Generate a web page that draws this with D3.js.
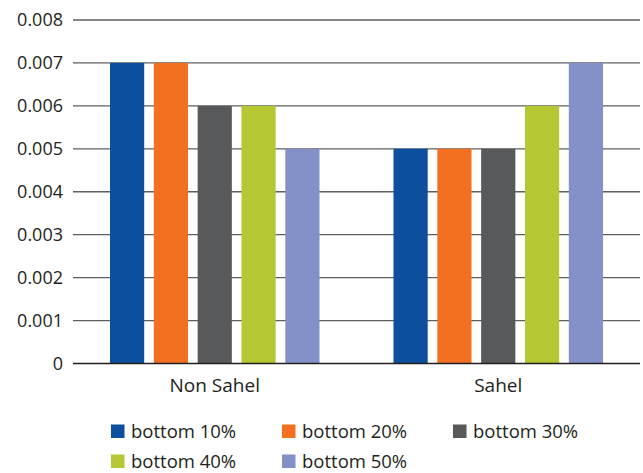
<!DOCTYPE html>
<html><head><meta charset="utf-8">
<script src="https://cdn.jsdelivr.net/npm/d3@7"></script>
<style>body{margin:0;background:#fff;} text{font-family:"Open Sans",sans-serif;fill:#231f20;}</style>
</head><body>
<svg id="c" width="643" height="473"></svg>
<script>
const categories = ["Non Sahel", "Sahel"];
const seriesNames = ["bottom 10%", "bottom 20%", "bottom 30%", "bottom 40%", "bottom 50%"];
const bottom10 = [0.007, 0.005];
const bottom20 = [0.007, 0.005];
const bottom30 = [0.006, 0.005];
const bottom40 = [0.006, 0.006];
const bottom50 = [0.005, 0.007];
const yTicks = [0, 0.001, 0.002, 0.003, 0.004, 0.005, 0.006, 0.007, 0.008];
const yTickLabels = ["0", "0.001", "0.002", "0.003", "0.004", "0.005", "0.006", "0.007", "0.008"];
const colors = ["#0b4f9e", "#f37021", "#58595b", "#b5c733", "#8490c8"];

(function() {
const values = [bottom10, bottom20, bottom30, bottom40, bottom50];
const svg = d3.select("#c");
const mLeft = 73, mRight = 640, mTop = 20, mBottom = 363.5;

const x0 = d3.scaleBand().domain(categories).range([mLeft, mRight]).paddingInner(0).paddingOuter(0);
const x1 = d3.scaleBand().domain(seriesNames).range([37, x0.bandwidth() - 37]).paddingInner(0.22).paddingOuter(0);
const y = d3.scaleLinear().domain([0, 0.008]).range([mBottom, mTop]);

svg.append("g").selectAll("line").data(yTicks.slice(1)).join("line")
  .attr("x1", mLeft).attr("x2", mRight)
  .attr("y1", d => y(d)).attr("y2", d => y(d))
  .attr("stroke", "#5f5f5f").attr("stroke-width", 1.3);

const groups = svg.append("g").selectAll("g").data(categories).join("g")
  .attr("transform", d => `translate(${x0(d)},0)`);
groups.each(function(cat, ci) {
  d3.select(this).selectAll("rect").data(seriesNames).join("rect")
    .attr("x", s => x1(s))
    .attr("width", x1.bandwidth())
    .attr("y", (s, si) => y(values[si][ci]))
    .attr("height", (s, si) => y(0) - y(values[si][ci]))
    .attr("fill", (s, si) => colors[si]);
});

svg.append("line").attr("x1", mLeft).attr("x2", mRight).attr("y1", y(0)).attr("y2", y(0))
  .attr("stroke", "#231f20").attr("stroke-width", 1.3);

svg.append("g").selectAll("text").data(yTicks).join("text")
  .attr("x", 63).attr("y", d => y(d)).attr("dy", "0.35em")
  .attr("text-anchor", "end").attr("font-size", 18)
  .text((d, i) => yTickLabels[i]);

svg.append("g").selectAll("text").data(categories).join("text")
  .attr("x", d => x0(d) + x0.bandwidth() / 2).attr("y", 391.5)
  .attr("text-anchor", "middle").attr("font-size", 19)
  .text(d => d);

const legPos = [[111, 431], [282, 431], [453, 431], [111, 461], [282, 461]];
const leg = svg.append("g").selectAll("g").data(seriesNames).join("g")
  .attr("transform", (d, i) => `translate(${legPos[i][0]},${legPos[i][1]})`);
leg.append("rect").attr("x", 0).attr("y", -6.5).attr("width", 13.5).attr("height", 13.5)
  .attr("fill", (d, i) => colors[i]);
leg.append("text").attr("x", 20).attr("y", 0).attr("dy", "0.36em").attr("font-size", 18.5).text(d => d);
})();
</script>
</body></html>
